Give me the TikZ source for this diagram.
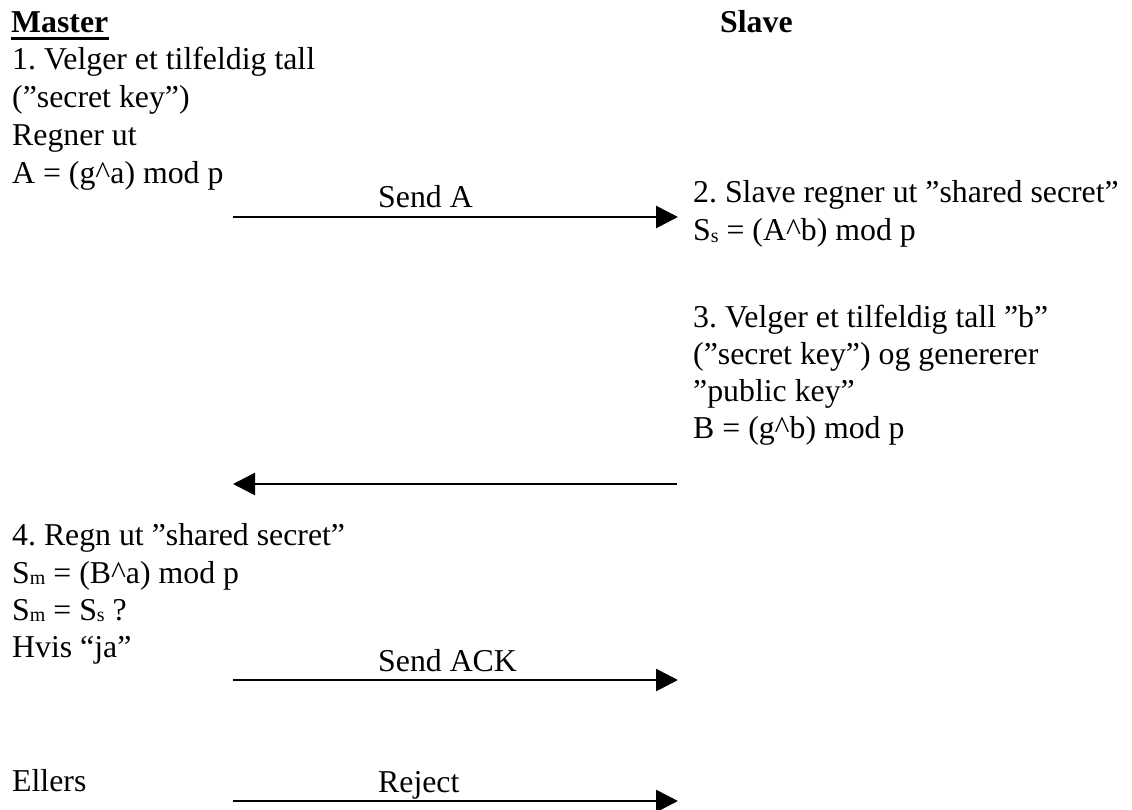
\documentclass[tikz,border=0pt]{standalone}
\usepackage{fontspec}
\setmainfont{Liberation Serif}
\usetikzlibrary{arrows.meta}
\newcommand\subsc[1]{\raisebox{-1.5pt}{\fontsize{20}{20}\selectfont #1}}
\newcommand\crt{\textasciicircum}
\begin{document}
\frenchspacing
\begin{tikzpicture}[x=1pt,y=-1pt,
  txt/.style={anchor=base west,inner sep=0pt,font=\fontsize{31.8}{37}\selectfont},
  hdr/.style={anchor=base west,inner sep=0pt,font=\fontsize{31.8}{37}\selectfont\bfseries},
  msg/.style={line width=2.8pt,-{Triangle[length=22pt,width=22pt]}}]
\useasboundingbox (0,0) rectangle (1132,810);
% headers
\node[hdr] (master) at (11,33) {Master};
\draw[line width=3pt] ([yshift=-6pt]master.base west) -- ([yshift=-6pt]master.base east);
\node[hdr] (slave) at (720,33) {Slave};
% step 1
\node[txt] (m1) at (12,70) {1. Velger et tilfeldig tall};
\node[txt] (m2) at (12,108) {(”secret key”)};
\node[txt] (m3) at (12,146) {Regner ut};
\node[txt] (m4) at (12,184) {A = (g\crt a) mod p};
% step 2
\node[txt] (s1) at (693,203) {2. Slave regner ut ”shared secret”};
\node[txt] (s2) at (693,241) {S\subsc{s} = (A\crt b) mod p};
% step 3
\node[txt] (s3) at (693,327) {3. Velger et tilfeldig tall ”b”};
\node[txt] (s4) at (693,364) {(”secret key”) og genererer};
\node[txt] (s5) at (693,401) {”public key”};
\node[txt] (s6) at (693,438) {B = (g\crt b) mod p};
% step 4
\node[txt] (m5) at (12,545) {4. Regn ut ”shared secret”};
\node[txt] (m6) at (12,583) {S\subsc{m} = (B\crt a) mod p};
\node[txt] (m7) at (12,620) {S\subsc{m} = S\subsc{s} ?};
\node[txt] (m8) at (12,657) {Hvis “ja”};
\node[txt] (m9) at (12,791) {Ellers};
% arrows
\coordinate (a1s) at (233,217);
\coordinate (a1e) at (678,217);
\coordinate (a2s) at (677,484);
\coordinate (a2e) at (233,484);
\coordinate (a3s) at (233,680);
\coordinate (a3e) at (678,680);
\coordinate (a4s) at (233,801);
\coordinate (a4e) at (678,801);
\draw[msg] (a1s) -- (a1e);
\draw[msg] (a2s) -- (a2e);
\draw[msg] (a3s) -- (a3e);
\draw[msg] (a4s) -- (a4e);
\node[txt] (l1) at (378,208) {Send A};
\node[txt] (l3) at (378,671) {Send ACK};
\node[txt] (l4) at (378,792) {Reject};
\end{tikzpicture}
\end{document}
